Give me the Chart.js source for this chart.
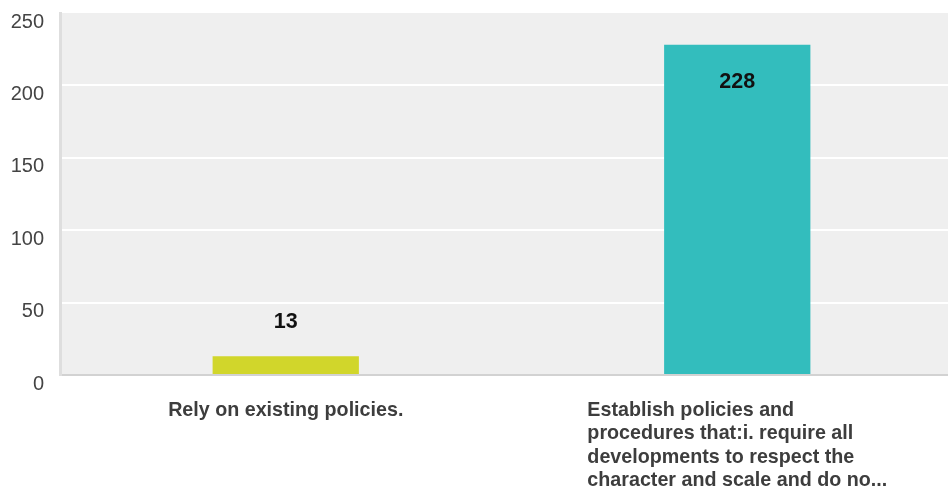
<!DOCTYPE html>
<html>
<head>
<meta charset="utf-8">
<script src="https://cdn.jsdelivr.net/npm/chart.js@4.4.1/dist/chart.umd.min.js"></script>
<style>
    html, body { margin: 0; padding: 0; background: #fff; overflow: hidden; }
    #wrap { width: 948px; height: 488px; overflow: hidden; }
</style>
</head>
<body>
<div id="wrap"><canvas id="answersChart" width="963" height="488"></canvas></div>
<script>
// answer options (long one is cut off the same way the survey tool does it)
const answerLabels = [
    ['Rely on existing policies.'],
    ['Establish policies and', 'procedures that:i. require all', 'developments to respect the', 'character and scale and do no...']
];
const answerCounts = [13, 228];
const barColors = ['#d1d62b', '#33bdbd'];
const yTicks = [0, 50, 100, 150, 200, 250];

// grey plot background
const plotBackground = {
    id: 'plotBackground',
    beforeDraw(chart) {
        const {ctx, chartArea} = chart;
        ctx.save();
        ctx.fillStyle = '#efefef';
        ctx.fillRect(chartArea.left, chartArea.top, chartArea.right - chartArea.left, chartArea.bottom - chartArea.top);
        ctx.restore();
    }
};

// value on top of / inside each bar
const valueLabels = {
    id: 'valueLabels',
    afterDatasetsDraw(chart) {
        const ctx = chart.ctx;
        const meta = chart.getDatasetMeta(0);
        ctx.save();
        ctx.font = 'bold 21.5px "Liberation Sans", Arial, sans-serif';
        ctx.fillStyle = '#111';
        ctx.textAlign = 'center';
        ctx.textBaseline = 'middle';
        meta.data.forEach((bar, i) => {
            const small = bar.base - bar.y < 60;
            const y = small ? bar.y - 34 : bar.y + 37;
            ctx.fillText(String(answerCounts[i]), bar.x, y);
        });
        ctx.restore();
    }
};

// category labels: block centred under the bar, lines left aligned
const categoryLabels = {
    id: 'categoryLabels',
    afterDraw(chart) {
        const ctx = chart.ctx;
        const xScale = chart.scales.x;
        ctx.save();
        ctx.font = 'bold 19.7px "Liberation Sans", Arial, sans-serif';
        ctx.fillStyle = '#3d3d3d';
        ctx.textBaseline = 'alphabetic';
        ctx.textAlign = 'left';
        answerLabels.forEach((lines, i) => {
            const cx = xScale.getPixelForValue(i);
            const widest = Math.max(...lines.map(l => ctx.measureText(l).width));
            const left = cx - widest / 2;
            lines.forEach((line, j) => {
                ctx.fillText(line, left, xScale.top + 41 + j * 23.4);
            });
        });
        ctx.restore();
    }
};

const ctx = document.getElementById('answersChart').getContext('2d');
const answersChart = new Chart(ctx, {
    type: 'bar',
    data: {
        labels: answerLabels.map(l => l.join(' ')),
        datasets: [{
            data: answerCounts,
            backgroundColor: barColors,
            borderWidth: 0,
            categoryPercentage: 1,
            barPercentage: 0.324,
        }]
    },
    options: {
        responsive: false,
        animation: false,
        layout: {
            padding: { top: 13, left: 0, right: 0, bottom: 0 }
        },
        scales: {
            x: {
                grid: { display: false },
                border: { color: '#d2d2d2', width: 2 },
                ticks: { display: false },
                afterFit(scale) { scale.height = 113; }
            },
            y: {
                min: 0,
                max: 250,
                afterBuildTicks(scale) {
                    scale.ticks = yTicks.map(v => ({value: v}));
                },
                grid: {
                    color: c => (c.tick && (c.tick.value === 0 || c.tick.value === 250)) ? 'rgba(0,0,0,0)' : '#ffffff',
                    lineWidth: 2,
                    drawTicks: false
                },
                border: { color: '#dedede', width: 3 },
                ticks: {
                    color: '#444',
                    padding: 16,
                    labelOffset: 9,
                    font: { family: '"Liberation Sans", Arial, sans-serif', size: 20 }
                },
                afterFit(scale) {
                    scale.width = 60;
                    scale.paddingTop = 0;
                    scale.paddingBottom = 0;
                }
            }
        },
        plugins: {
            legend: { display: false },
            tooltip: { enabled: false }
        }
    },
    plugins: [plotBackground, valueLabels, categoryLabels]
});
</script>
</body>
</html>
